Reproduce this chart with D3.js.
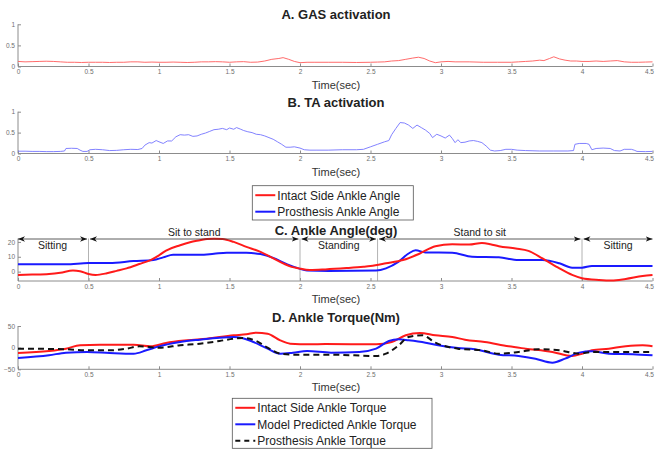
<!DOCTYPE html>
<html>
<head>
<meta charset="utf-8">
<script src="https://cdnjs.cloudflare.com/ajax/libs/d3/7.8.5/d3.min.js"></script>
<style>
  body { margin: 0; background: #fff; }
  svg { font-family: "Liberation Sans", Arial, sans-serif; }
  .axis path, .axis line { stroke: #8c8c8c; }
  .axis text { fill: #6e6e6e; font-size: 6.5px; }
</style>
</head>
<body>
<div id="chart"></div>
<script>
const w = 656;
const h = 451;

const xTicks = [0, 0.5, 1, 1.5, 2, 2.5, 3, 3.5, 4, 4.5];

// EMG activations [time, value]
const gasActivation = [[0,0.12],[0.05,0.11],[0.1,0.115],[0.15,0.12],[0.2,0.125],[0.25,0.12],[0.3,0.11],[0.35,0.1],[0.4,0.1],[0.45,0.095],[0.5,0.1],[0.55,0.1],[0.6,0.1],[0.65,0.095],[0.7,0.1],[0.75,0.1],[0.8,0.11],[0.85,0.11],[0.9,0.1],[0.95,0.105],[1.0,0.1],[1.05,0.1],[1.1,0.105],[1.15,0.1],[1.2,0.095],[1.25,0.1],[1.3,0.11],[1.35,0.11],[1.4,0.115],[1.45,0.11],[1.5,0.1],[1.55,0.11],[1.6,0.115],[1.65,0.1],[1.7,0.105],[1.75,0.13],[1.8,0.17],[1.85,0.19],[1.88,0.21],[1.92,0.17],[1.96,0.12],[2.0,0.09],[2.05,0.1],[2.1,0.1],[2.2,0.1],[2.3,0.1],[2.4,0.095],[2.5,0.1],[2.55,0.105],[2.6,0.11],[2.65,0.13],[2.7,0.14],[2.75,0.17],[2.8,0.2],[2.84,0.22],[2.88,0.19],[2.92,0.13],[2.96,0.09],[3.0,0.11],[3.05,0.12],[3.1,0.11],[3.2,0.11],[3.3,0.1],[3.4,0.1],[3.5,0.1],[3.55,0.11],[3.6,0.12],[3.65,0.13],[3.7,0.15],[3.73,0.14],[3.77,0.19],[3.8,0.23],[3.84,0.18],[3.88,0.15],[3.92,0.13],[3.96,0.13],[4.0,0.12],[4.05,0.12],[4.1,0.13],[4.15,0.12],[4.2,0.13],[4.25,0.14],[4.3,0.11],[4.35,0.1],[4.4,0.1],[4.45,0.105],[4.5,0.11]];

const taActivation = [[0,0.055],[0.05,0.055],[0.1,0.05],[0.15,0.05],[0.2,0.045],[0.25,0.045],[0.3,0.05],[0.33,0.06],[0.34,0.12],[0.38,0.125],[0.42,0.12],[0.44,0.08],[0.46,0.05],[0.49,0.05],[0.51,0.09],[0.55,0.1],[0.6,0.09],[0.65,0.07],[0.7,0.075],[0.75,0.09],[0.8,0.1],[0.85,0.095],[0.88,0.12],[0.9,0.2],[0.93,0.26],[0.95,0.25],[0.98,0.31],[1.0,0.28],[1.03,0.24],[1.06,0.3],[1.09,0.3],[1.12,0.4],[1.15,0.45],[1.18,0.44],[1.21,0.45],[1.24,0.41],[1.27,0.42],[1.3,0.46],[1.33,0.49],[1.36,0.53],[1.39,0.57],[1.42,0.58],[1.45,0.6],[1.48,0.57],[1.5,0.61],[1.53,0.58],[1.55,0.62],[1.58,0.58],[1.6,0.55],[1.63,0.52],[1.66,0.5],[1.69,0.46],[1.72,0.45],[1.75,0.42],[1.78,0.38],[1.81,0.34],[1.84,0.28],[1.87,0.22],[1.9,0.15],[1.93,0.15],[1.96,0.16],[2.0,0.13],[2.03,0.09],[2.07,0.08],[2.12,0.08],[2.2,0.08],[2.3,0.09],[2.4,0.09],[2.45,0.1],[2.5,0.16],[2.55,0.22],[2.6,0.28],[2.63,0.31],[2.65,0.45],[2.68,0.6],[2.71,0.74],[2.74,0.73],[2.77,0.68],[2.8,0.6],[2.83,0.68],[2.86,0.62],[2.89,0.56],[2.92,0.48],[2.94,0.38],[2.97,0.46],[3.0,0.42],[3.03,0.37],[3.06,0.44],[3.08,0.36],[3.1,0.26],[3.12,0.33],[3.14,0.26],[3.17,0.27],[3.2,0.3],[3.23,0.31],[3.26,0.29],[3.29,0.26],[3.32,0.18],[3.35,0.08],[3.38,0.06],[3.42,0.07],[3.46,0.1],[3.5,0.1],[3.54,0.08],[3.6,0.07],[3.7,0.06],[3.8,0.06],[3.9,0.06],[3.94,0.07],[3.95,0.22],[3.98,0.24],[4.03,0.24],[4.05,0.22],[4.07,0.09],[4.1,0.12],[4.15,0.13],[4.2,0.12],[4.23,0.07],[4.27,0.06],[4.3,0.1],[4.35,0.1],[4.37,0.08],[4.39,0.05],[4.45,0.045],[4.5,0.05]];

// ankle angles (deg)
const intactAngle = [[0,-2.2],[0.1,-2],[0.22,-1.6],[0.3,-0.8],[0.39,0.7],[0.44,0.3],[0.5,-1.6],[0.55,-2.2],[0.63,-1.1],[0.7,0.5],[0.77,2.2],[0.86,5.1],[0.94,7.8],[1.0,11],[1.05,14.2],[1.15,17.8],[1.22,19.8],[1.29,21.1],[1.34,22],[1.39,22.2],[1.45,22],[1.53,20],[1.62,16.7],[1.72,13.3],[1.79,10],[1.88,5.6],[1.94,3.2],[1.99,2.2],[2.07,1.1],[2.18,1.5],[2.33,2.4],[2.45,3.3],[2.5,3.8],[2.61,5.6],[2.73,7.8],[2.85,12.2],[2.96,17.1],[3.08,18.4],[3.2,18.2],[3.29,19.3],[3.35,18.5],[3.41,17.1],[3.53,15.6],[3.62,14],[3.72,8.9],[3.84,2.2],[3.93,-2.2],[4.0,-4.4],[4.12,-5.6],[4.21,-6],[4.31,-4.9],[4.43,-2.9],[4.5,-2.2]];
const prosthesisAngle = [[0,4.9],[0.34,4.9],[0.5,5.8],[0.65,5.8],[0.82,7.1],[0.96,7.8],[1.03,9.6],[1.1,11.3],[1.29,11.3],[1.39,12],[1.48,12.7],[1.62,12.7],[1.72,11.8],[1.81,9.3],[1.91,4.9],[1.99,2.2],[2.05,0.7],[2.2,0.4],[2.54,0.7],[2.61,2.2],[2.7,6.7],[2.77,12.2],[2.82,14.4],[2.89,12.9],[3.08,12.7],[3.22,10],[3.41,9.6],[3.55,7.8],[3.72,7.8],[3.84,5.6],[3.93,2.7],[4.0,2.7],[4.07,3.8],[4.5,3.8]];

// ankle torques (Nm)
const intactTorque = [[0,-12.3],[0.22,-7.7],[0.34,-2.3],[0.44,5.4],[0.58,6.9],[0.82,6.9],[0.94,3],[1.05,10.8],[1.2,16.9],[1.34,20.8],[1.53,28.5],[1.62,30.8],[1.69,34.6],[1.77,32.3],[1.86,16.9],[1.93,9.2],[2.07,7.7],[2.18,8.5],[2.54,7.7],[2.65,13],[2.75,28.5],[2.85,33.8],[2.96,28.5],[3.08,24.6],[3.17,18.5],[3.31,13],[3.48,3],[3.6,-2.3],[3.79,-10],[3.93,-19.2],[4.0,-13.9],[4.07,-6.2],[4.19,-2.3],[4.31,3],[4.43,5.4],[4.5,3]];
const modelTorque = [[0,-23.9],[0.22,-17.7],[0.34,-11.5],[0.49,-10],[0.65,-12.3],[0.82,-13.9],[0.91,-6.2],[1.0,3],[1.15,13],[1.29,18.5],[1.43,23.1],[1.53,24.6],[1.58,23.1],[1.67,13],[1.77,-2.3],[1.86,-13.9],[1.95,-11.5],[2.05,-7.7],[2.22,-11.5],[2.42,-10],[2.54,-2.3],[2.63,15.4],[2.7,19.2],[2.77,16.9],[2.89,11.5],[2.98,5.4],[3.12,-0.8],[3.24,-3.8],[3.41,-16.2],[3.55,-19.2],[3.67,-25.4],[3.79,-34.6],[3.88,-25.4],[3.98,-11.5],[4.07,-8.5],[4.19,-13.9],[4.36,-15.4],[4.5,-17.7]];
const prosthesisTorque = [[0,-2.3],[0.34,-3.8],[0.49,-6.2],[0.65,-6.2],[0.77,-2.3],[0.86,3],[1.0,0],[1.15,5.4],[1.29,9.2],[1.43,15.4],[1.53,20.8],[1.6,22.3],[1.69,15.4],[1.77,0],[1.86,-13.9],[1.95,-16.2],[2.22,-16.2],[2.54,-19.2],[2.61,-13.9],[2.7,5.4],[2.77,24.6],[2.87,28.5],[2.96,11.5],[3.12,-2.3],[3.29,-6.2],[3.41,-13.9],[3.55,-10],[3.69,-3.8],[3.84,-6.2],[3.98,-13.9],[4.07,-10],[4.31,-10],[4.5,-10]];

// task phases
const phaseBounds = [0, 0.5, 2, 2.55, 4, 4.5];
const phaseNames = ["Sitting", "Sit to stand", "Standing", "Stand to sit", "Sitting"];
const phaseAbove = [false, true, false, true, false];

const svg = d3.select("#chart").append("svg")
  .attr("width", w).attr("height", h);

const x = d3.scaleLinear().domain([0, 4.5]).range([18, 652.5]);

function panel(opts) {
  const y = d3.scaleLinear().domain(opts.domain).range([opts.bottom, opts.top]);
  const g = svg.append("g");

  g.append("g").attr("class", "axis")
    .attr("transform", `translate(0,${opts.bottom})`)
    .call(d3.axisBottom(x).tickValues(xTicks).tickFormat(d3.format("")).tickSize(-3).tickPadding(3))
    .call((a) => a.select(".domain").attr("d", `M${x(0)},0H${x(4.5)}`))
    // last label sits at the right edge, keep it inside the page
    .call((a) => a.selectAll(".tick").filter((d) => d === 4.5).select("text")
      .attr("text-anchor", "end").attr("dx", 1));

  g.append("g").attr("class", "axis")
    .attr("transform", `translate(${x(0)},0)`)
    .call(d3.axisLeft(y).tickValues(opts.yTicks).tickFormat(d3.format("")).tickSize(-3).tickPadding(3))
    .call((a) => a.select(".domain").attr("d", `M0,${opts.top}V${opts.bottom}`));

  g.append("text")
    .attr("x", 336).attr("y", opts.title_y)
    .attr("text-anchor", "middle")
    .attr("font-weight", "bold").attr("font-size", 13).attr("fill", "#222")
    .text(opts.title);

  g.append("text")
    .attr("x", 336).attr("y", opts.bottom + 22)
    .attr("text-anchor", "middle")
    .attr("font-size", 11).attr("fill", "#333")
    .text("Time(sec)");

  return { g, y };
}

function drawLine(p, data, color, width, curve, dash) {
  const line = d3.line().x((d) => x(d[0])).y((d) => p.y(d[1])).curve(curve);
  p.g.append("path")
    .datum(data)
    .attr("fill", "none")
    .attr("stroke", color)
    .attr("stroke-width", width)
    .attr("stroke-dasharray", dash || null)
    .attr("d", line);
}

// A
const pA = panel({ domain: [0, 1], top: 24.3, bottom: 66.5, yTicks: [0, 0.5, 1], title: "A. GAS activation", title_y: 19 });
drawLine(pA, gasActivation, "#ff5a5a", 0.9, d3.curveLinear);

// B
const pB = panel({ domain: [0, 1], top: 111.7, bottom: 153.5, yTicks: [0, 0.5, 1], title: "B. TA activation", title_y: 107 });
drawLine(pB, taActivation, "#7474ff", 0.9, d3.curveLinear);

// C
const pC = panel({ domain: [-6.3, 22.3], top: 238.5, bottom: 281, yTicks: [0, 10, 20], title: "C. Ankle Angle(deg)", title_y: 234.5 });

// phase separators
pC.g.selectAll(".sep")
  .data(phaseBounds.slice(1, -1))
  .enter().append("line")
  .attr("x1", (d) => x(d)).attr("x2", (d) => x(d))
  .attr("y1", pC.y(22.3)).attr("y2", pC.y(-6.3))
  .attr("stroke", "#a0a0a0").attr("stroke-width", 0.8);

drawLine(pC, prosthesisAngle, "#1a1aff", 2, d3.curveMonotoneX);
drawLine(pC, intactAngle, "#ff1a1a", 2, d3.curveMonotoneX);

// phase arrows
const arrowY = 239;
const defs = svg.append("defs");
["start", "end"].forEach((k) => {
  defs.append("marker")
    .attr("id", "arrow-" + k)
    .attr("viewBox", "0 0 10 10")
    .attr("refX", k === "end" ? 10 : 0).attr("refY", 5)
    .attr("markerWidth", 7).attr("markerHeight", 7)
    .attr("markerUnits", "userSpaceOnUse")
    .attr("orient", "auto")
    .append("path")
    .attr("d", k === "end" ? "M0,1L10,5L0,9L3,5Z" : "M10,1L0,5L10,9L7,5Z")
    .attr("fill", "#111");
});

phaseNames.forEach((name, i) => {
  const x0 = x(phaseBounds[i]) + (i === 0 ? 0 : 1.5);
  const x1 = x(phaseBounds[i + 1]) - (i === phaseNames.length - 1 ? 0 : 1.5);
  svg.append("line")
    .attr("x1", x0).attr("x2", x1)
    .attr("y1", arrowY).attr("y2", arrowY)
    .attr("stroke", "#333").attr("stroke-width", 0.8)
    .attr("marker-start", "url(#arrow-start)")
    .attr("marker-end", "url(#arrow-end)");
  svg.append("text")
    .attr("x", (x0 + x1) / 2)
    .attr("y", phaseAbove[i] ? arrowY - 3.5 : arrowY + 10)
    .attr("text-anchor", "middle")
    .attr("font-size", 10.5).attr("fill", "#222")
    .text(name);
});

// D
const pD = panel({ domain: [-50, 50], top: 326, bottom: 369.3, yTicks: [-50, 0, 50], title: "D. Ankle Torque(Nm)", title_y: 321.5 });
drawLine(pD, intactTorque, "#ff1a1a", 2, d3.curveMonotoneX);
drawLine(pD, modelTorque, "#1a1aff", 2, d3.curveMonotoneX);
drawLine(pD, prosthesisTorque, "#111", 2, d3.curveMonotoneX, "6,4");

// legends
function legend(x0, y0, wBox, hBox, items) {
  const g = svg.append("g");
  g.append("rect")
    .attr("x", x0).attr("y", y0).attr("width", wBox).attr("height", hBox)
    .attr("fill", "#fff").attr("stroke", "#555").attr("stroke-width", 0.8);
  items.forEach((it, i) => {
    const yy = y0 + 9.5 + i * it.step;
    g.append("line")
      .attr("x1", x0 + 3).attr("x2", x0 + 23)
      .attr("y1", yy).attr("y2", yy)
      .attr("stroke", it.color).attr("stroke-width", 2)
      .attr("stroke-dasharray", it.dash || null);
    g.append("text")
      .attr("x", x0 + 25).attr("y", yy + 4.3)
      .attr("font-size", 12).attr("fill", "#222")
      .text(it.label);
  });
}

legend(252.3, 185.7, 161, 34.3, [
  { label: "Intact Side Ankle Angle", color: "#ff1a1a", step: 16.5 },
  { label: "Prosthesis Ankle Angle", color: "#1a1aff", step: 16.5 }
]);

legend(232.3, 398.3, 199.7, 50, [
  { label: "Intact Side Ankle Torque", color: "#ff1a1a", step: 16.5 },
  { label: "Model Predicted Ankle Torque", color: "#1a1aff", step: 16.5 },
  { label: "Prosthesis Ankle Torque", color: "#111", step: 16.5, dash: "5,4" }
]);
</script>
</body>
</html>
